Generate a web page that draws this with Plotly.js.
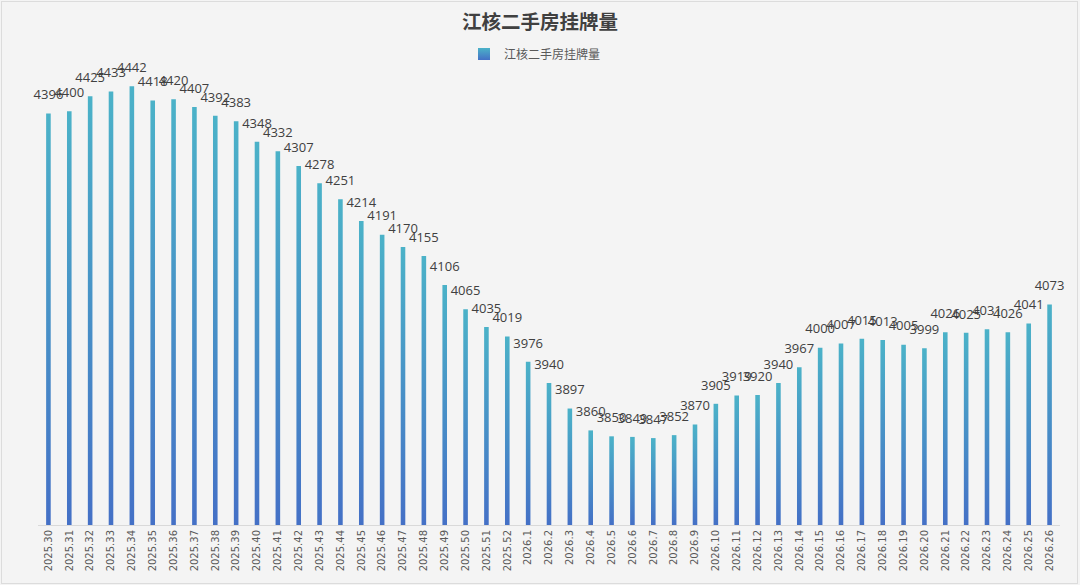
<!DOCTYPE html>
<html>
<head>
<meta charset="utf-8">
<script src="https://cdn.plot.ly/plotly-3.0.1.min.js"></script>
<style>
  html, body { margin: 0; padding: 0; background: #f4f4f4; }
  #wrap { position: relative; width: 1080px; height: 585px; }
  #plot { width: 1080px; height: 585px; }
  #frame { position: absolute; left: 1px; top: 1px; width: 1075px; height: 581px;
           border: 1px solid #dcdcdc; pointer-events: none; }
</style>
</head>
<body>
<div id="wrap">
  <div id="plot"></div>
  <div id="frame"></div>
</div>
<script>
// weeks 2025.30 .. 2026.26
var weeks2025 = ["2025.30", "2025.31", "2025.32", "2025.33", "2025.34", "2025.35", "2025.36", "2025.37",
  "2025.38", "2025.39", "2025.40", "2025.41", "2025.42", "2025.43", "2025.44", "2025.45", "2025.46",
  "2025.47", "2025.48", "2025.49", "2025.50", "2025.51", "2025.52"];
var weeks2026 = ["2026.1", "2026.2", "2026.3", "2026.4", "2026.5", "2026.6", "2026.7", "2026.8", "2026.9",
  "2026.10", "2026.11", "2026.12", "2026.13", "2026.14", "2026.15", "2026.16", "2026.17", "2026.18",
  "2026.19", "2026.20", "2026.21", "2026.22", "2026.23", "2026.24", "2026.25", "2026.26"];

var listings2025 = [4396, 4400, 4425, 4433, 4442, 4418, 4420, 4407, 4392, 4383, 4348, 4332, 4307,
  4278, 4251, 4214, 4191, 4170, 4155, 4106, 4065, 4035, 4019];
var listings2026 = [3976, 3940, 3897, 3860, 3850, 3849, 3847, 3852, 3870, 3905, 3919, 3920, 3940,
  3967, 4000, 4007, 4015, 4013, 4005, 3999, 4026, 4025, 4031, 4026, 4041, 4073];

var seriesName = "江核二手房挂牌量";

var weeks = weeks2025.concat(weeks2026);
var listings = listings2025.concat(listings2026);

// value axis starts at 3700; bars stand on that floor so the gradient spans only the visible bar
var axisFloor = 3700;
var axisTop = 4500;

var bars = {
  x: weeks,
  y: listings.map(function (v) { return v - axisFloor; }),
  base: axisFloor,
  type: "bar",
  name: seriesName,
  showlegend: true,
  marker: { color: "#4a9bc9" },
  hoverinfo: "skip"
};

// value labels, sitting a little above each bar top
var labels = {
  x: weeks,
  y: listings,
  type: "scatter",
  mode: "markers+text",
  showlegend: false,
  marker: { size: 16, opacity: 0 },
  text: listings.map(String),
  textposition: "top center",
  cliponaxis: false,
  textfont: { family: "Open Sans, sans-serif", size: 13, color: "#404040" },
  hoverinfo: "x+y"
};

var layout = {
  width: 1080,
  height: 585,
  paper_bgcolor: "#f4f4f4",
  plot_bgcolor: "#f4f4f4",
  margin: { l: 37.6, r: 20.4, t: 52, b: 60 },
  bargap: 0.78,
  title: {
    text: "<b>" + seriesName + "</b>",
    font: { family: "Noto Sans CJK SC, sans-serif", size: 19.5, color: "#404040" },
    x: 0.5, xanchor: "center",
    y: 1 - 22 / 585, yanchor: "middle", yref: "container"
  },
  showlegend: true,
  legend: {
    orientation: "h",
    x: 0.5 - 14 / 1022, xanchor: "center",
    y: (525 - 54) / 473, yanchor: "middle",
    font: { family: "Noto Sans CJK SC, sans-serif", size: 12, color: "#595959" },
    bgcolor: "rgba(0,0,0,0)"
  },
  xaxis: {
    type: "category",
    range: [-0.5, weeks.length - 0.5],
    tickangle: -90,
    tickfont: { family: "DejaVu Sans, sans-serif", size: 10, color: "#595959" },
    showline: true,
    linecolor: "#d9d9d9",
    linewidth: 1,
    ticks: "",
    showgrid: false,
    automargin: false
  },
  yaxis: {
    range: [axisFloor, axisTop],
    visible: false,
    showgrid: false,
    zeroline: false
  }
};

// vertical teal-to-blue gradient on each bar and on the legend swatch
function addGradient(gd) {
  var svgNS = "http://www.w3.org/2000/svg";
  if (!document.getElementById("barGrad")) {
    var defs = gd.querySelector("svg.main-svg defs");
    var grad = document.createElementNS(svgNS, "linearGradient");
    grad.setAttribute("id", "barGrad");
    grad.setAttribute("x1", "0"); grad.setAttribute("y1", "0");
    grad.setAttribute("x2", "0"); grad.setAttribute("y2", "1");
    [["0", "#4bb2c8"], ["1", "#4470c6"]].forEach(function (s) {
      var stop = document.createElementNS(svgNS, "stop");
      stop.setAttribute("offset", s[0]);
      stop.setAttribute("stop-color", s[1]);
      grad.appendChild(stop);
    });
    defs.appendChild(grad);
  }
  gd.querySelectorAll(".barlayer path, .legendpoints path").forEach(function (p) {
    p.style.setProperty("fill", "url(#barGrad)", "important");
  });
}

Plotly.newPlot("plot", [bars, labels], layout, { displayModeBar: false, staticPlot: true }).then(addGradient);
</script>
</body>
</html>
